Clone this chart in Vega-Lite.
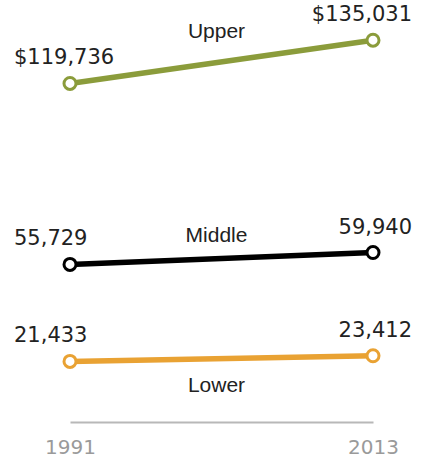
{
  "$schema": "https://vega.github.io/schema/vega-lite/v6.json",
  "width": 303,
  "height": 410,
  "autosize": "none",
  "padding": {"left": 70, "top": 12, "right": 50, "bottom": 38},
  "background": "white",
  "config": {"view": {"stroke": null}, "font": "Liberation Sans"},
  "data": {
    "values": [
      {"series": "Upper", "year": 1991, "value": 119736},
      {"series": "Upper", "year": 2013, "value": 135031},
      {"series": "Middle", "year": 1991, "value": 55729},
      {"series": "Middle", "year": 2013, "value": 59940},
      {"series": "Lower", "year": 1991, "value": 21433},
      {"series": "Lower", "year": 2013, "value": 23412}
    ]
  },
  "transform": [
    {"calculate": "(datum.series === 'Upper' ? '$' : '') + format(datum.value, ',')", "as": "label"}
  ],
  "encoding": {
    "x": {
      "field": "year", "type": "quantitative",
      "scale": {"domain": [1991, 2013], "nice": false, "zero": false},
      "axis": {
        "values": [1991, 2013], "format": "d", "title": null, "grid": false, "ticks": false,
        "domainColor": "#b8b8b8", "domainWidth": 2,
        "labelColor": "#9a9a9a", "labelFontSize": 20, "labelFont": "DejaVu Sans",
        "labelBaseline": "alphabetic", "labelPadding": 31, "labelFlush": false
      }
    },
    "y": {
      "field": "value", "type": "quantitative",
      "scale": {"domain": [0, 145000], "nice": false},
      "axis": null
    },
    "color": {
      "field": "series", "type": "nominal",
      "scale": {"domain": ["Upper", "Middle", "Lower"], "range": ["#8b9c3b", "#000000", "#e9a233"]},
      "legend": null
    }
  },
  "layer": [
    {"mark": {"type": "line", "strokeWidth": 5.5}},
    {"mark": {"type": "point", "filled": true, "fill": "white", "size": 144, "strokeWidth": 3, "opacity": 1},
     "encoding": {"stroke": {"field": "series", "type": "nominal", "scale": {"domain": ["Upper", "Middle", "Lower"], "range": ["#8b9c3b", "#000000", "#e9a233"]}, "legend": null}, "color": {"value": "white"}}},
    {"transform": [{"filter": "datum.year === 1991"}],
     "mark": {"type": "text", "align": "left", "baseline": "alphabetic", "dx": -56, "dy": -19, "fontSize": 21, "font": "DejaVu Sans"},
     "encoding": {"text": {"field": "label"}, "color": {"value": "#222222"}}},
    {"transform": [{"filter": "datum.year === 2013"}],
     "mark": {"type": "text", "align": "right", "baseline": "alphabetic", "dx": 39, "dy": -19, "fontSize": 21, "font": "DejaVu Sans"},
     "encoding": {"text": {"field": "label"}, "color": {"value": "#222222"}}},
    {"transform": [{"filter": "datum.series === 'Upper'"}, {"aggregate": [{"op": "mean", "field": "value", "as": "value"}, {"op": "mean", "field": "year", "as": "year"}], "groupby": ["series"]}],
     "mark": {"type": "text", "align": "center", "baseline": "alphabetic", "dx": -5, "dy": -24, "fontSize": 21},
     "encoding": {"text": {"field": "series"}, "color": {"value": "#222222"}}},
    {"transform": [{"filter": "datum.series === 'Middle'"}, {"aggregate": [{"op": "mean", "field": "value", "as": "value"}, {"op": "mean", "field": "year", "as": "year"}], "groupby": ["series"]}],
     "mark": {"type": "text", "align": "center", "baseline": "alphabetic", "dx": -5, "dy": -16, "fontSize": 21},
     "encoding": {"text": {"field": "series"}, "color": {"value": "#222222"}}},
    {"transform": [{"filter": "datum.series === 'Lower'"}, {"aggregate": [{"op": "mean", "field": "value", "as": "value"}, {"op": "mean", "field": "year", "as": "year"}], "groupby": ["series"]}],
     "mark": {"type": "text", "align": "center", "baseline": "alphabetic", "dx": -5, "dy": 33, "fontSize": 21},
     "encoding": {"text": {"field": "series"}, "color": {"value": "#222222"}}}
  ]
}
